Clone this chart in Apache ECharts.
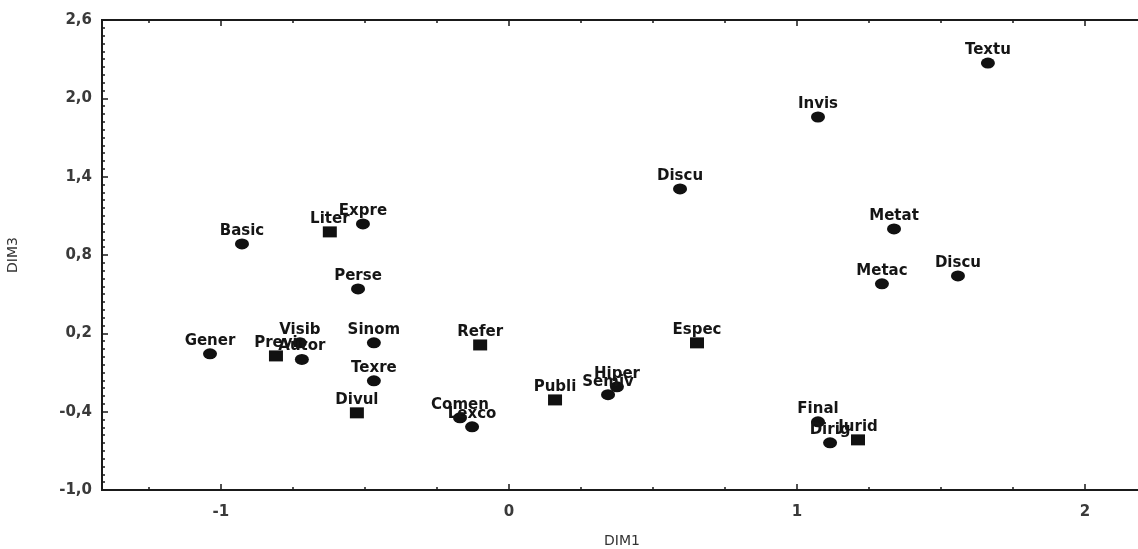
<!DOCTYPE html>
<html>
<head>
<meta charset="utf-8">
<script src="https://cdn.jsdelivr.net/npm/echarts@6/dist/echarts.min.js"></script>
<style>html,body{margin:0;padding:0;background:#fff}#c{width:1138px;height:549px}</style>
</head>
<body>
<div id="c"></div>
<script>
// Circle points
const circleNames = ['Textu','Invis','Discu','Metat','Metac','Discu','Basic','Expre','Perse','Gener','Visib','Autor','Sinom','Texre','Comen','Lexco','Semiv','Hiper','Final','Dirig'];
const circleDim1  = [1.663, 1.073, 0.594, 1.337, 1.295, 1.559, -0.927, -0.507, -0.524, -1.038, -0.726, -0.719, -0.469, -0.469, -0.170, -0.128, 0.344, 0.375, 1.073, 1.115];
const circleDim3  = [2.27, 1.857, 1.306, 1.00, 0.579, 0.64, 0.885, 1.038, 0.54, 0.043, 0.127, 0.0, 0.127, -0.164, -0.447, -0.516, -0.27, -0.21, -0.478, -0.639];
// Square points
const squareNames = ['Liter','Previ','Refer','Espec','Divul','Publi','Jurid'];
const squareDim1  = [-0.622, -0.809, -0.10, 0.653, -0.528, 0.160, 1.212];
const squareDim3  = [0.977, 0.027, 0.111, 0.127, -0.409, -0.31, -0.616];
// Ticks
const xMajorTicks = [-1, 0, 1, 2];
const yMajorTicks = [-1.0, -0.4, 0.2, 0.8, 1.4, 2.0, 2.6];
const xMinorStep = 0.25;
const yMinorStep = 0.06;

function steps(a, b, s) { const r = []; const n = Math.round((b - a) / s); for (let i = 0; i <= n; i++) r.push(+(a + i * s).toFixed(4)); return r; }
const xMinorTicks = steps(-1.25, 2.0, xMinorStep);
const yMinorTicks = steps(-1.0, 2.6, yMinorStep);

const font = '"DejaVu Sans", Verdana, sans-serif';
const lineCol = '#1a1a1a';
const XMIN = -1.413, XMAX = 2.198, YMIN = -1.0, YMAX = 2.6;

function xAx(pos, ticks, len, labels) {
  return {
    type: 'value', position: pos, min: XMIN, max: XMAX, gridIndex: 0,
    axisLine: { show: false, onZero: false }, splitLine: { show: false },
    axisTick: { show: true, inside: true, length: len, customValues: ticks, lineStyle: { color: lineCol, width: 1.5 } },
    axisLabel: labels ? { show: true, customValues: ticks, formatter: v => String(v), color: '#3a3a3a', fontSize: 15, fontWeight: 'bold', fontFamily: font, margin: 15 } : { show: false }
  };
}
function yAx(pos, ticks, len, labels) {
  return {
    type: 'value', position: pos, min: YMIN, max: YMAX, gridIndex: 0,
    axisLine: { show: false, onZero: false }, splitLine: { show: false },
    axisTick: { show: true, inside: true, length: len, customValues: ticks, lineStyle: { color: lineCol, width: 1.5 } },
    axisLabel: labels ? { show: true, customValues: ticks, formatter: v => v.toFixed(1).replace('.', ','), color: '#3a3a3a', fontSize: 15, fontWeight: 'bold', fontFamily: font, margin: 10 } : { show: false }
  };
}

const xa0 = xAx('bottom', xMajorTicks, 6, true);
xa0.name = 'DIM1'; xa0.nameLocation = 'middle'; xa0.nameGap = 44;
xa0.nameTextStyle = { color: '#333', fontSize: 14, fontFamily: font };
const ya0 = yAx('left', yMajorTicks, 6, true);
ya0.name = 'DIM3'; ya0.nameLocation = 'middle'; ya0.nameGap = 82;
ya0.nameTextStyle = { color: '#333', fontSize: 14, fontFamily: font };

const labelStyle = { show: true, position: 'top', distance: 0, formatter: p => p.name, color: '#151515', fontSize: 15, fontWeight: 'bold', fontFamily: font };

const option = {
  animation: false,
  backgroundColor: '#fff',
  grid: { left: 102, top: 20, right: -4, bottom: 59, outerBoundsMode: 'none', containLabel: false, show: true, borderColor: lineCol, borderWidth: 2, backgroundColor: 'transparent' },
  xAxis: [xa0, xAx('bottom', xMinorTicks, 3, false), xAx('top', xMajorTicks, 6, false), xAx('top', xMinorTicks, 3, false)],
  yAxis: [ya0, yAx('left', yMinorTicks, 3, false)],
  series: [
    {
      type: 'scatter', xAxisIndex: 0, yAxisIndex: 0, symbol: 'circle', symbolSize: [14, 11],
      itemStyle: { color: '#111', opacity: 1 },
      label: labelStyle, labelLayout: { hideOverlap: false },
      data: circleNames.map((n, i) => ({ name: n, value: [circleDim1[i], circleDim3[i]] }))
    },
    {
      type: 'scatter', xAxisIndex: 0, yAxisIndex: 0, symbol: 'rect', symbolSize: [14, 11],
      itemStyle: { color: '#111', opacity: 1 },
      label: labelStyle, labelLayout: { hideOverlap: false },
      data: squareNames.map((n, i) => ({ name: n, value: [squareDim1[i], squareDim3[i]] }))
    }
  ]
};
echarts.init(document.getElementById('c'), null, { renderer: 'canvas' }).setOption(option);
</script>
</body>
</html>
